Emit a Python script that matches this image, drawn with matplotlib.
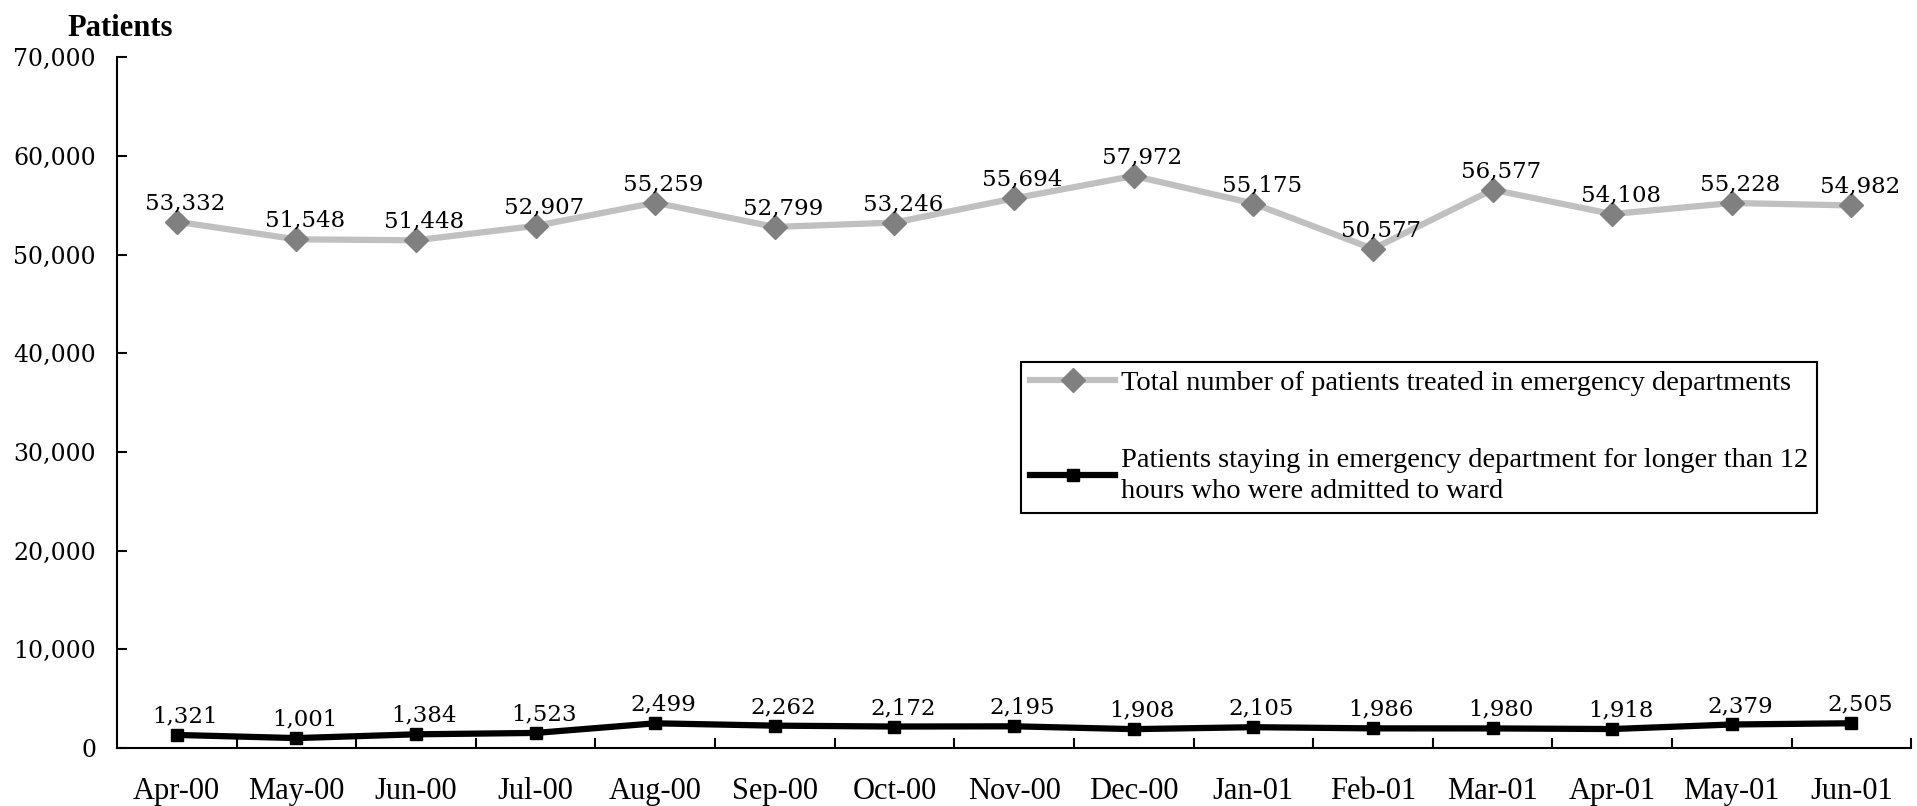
"""
Emergency department patients, Apr-00 to Jun-01.
Total treated vs. patients staying longer than 12 hours before admission.
"""

import matplotlib
matplotlib.use("Agg")
import matplotlib.pyplot as plt
from matplotlib.ticker import FuncFormatter, FixedLocator

months = ["Apr-00", "May-00", "Jun-00", "Jul-00", "Aug-00", "Sep-00", "Oct-00",
          "Nov-00", "Dec-00", "Jan-01", "Feb-01", "Mar-01", "Apr-01", "May-01",
          "Jun-01"]
total_treated = [53332, 51548, 51448, 52907, 55259, 52799, 53246, 55694,
                 57972, 55175, 50577, 56577, 54108, 55228, 54982]
over_12_hours = [1321, 1001, 1384, 1523, 2499, 2262, 2172, 2195, 1908, 2105,
                 1986, 1980, 1918, 2379, 2505]

label_total = "Total number of patients treated in emergency departments"
label_long = ("Patients staying in emergency department for longer than 12\n"
              "hours who were admitted to ward")

NUM_FONT = "DejaVu Serif"
TXT_FONT = "Liberation Serif"

fig = plt.figure(figsize=(19.17, 8.06), dpi=100)
ax = fig.add_axes([0.061, 0.072, 0.936, 0.857])

x = list(range(len(months)))
ax.plot(x, total_treated, color="#C0C0C0", linewidth=4.5, marker="D",
        markersize=12, markerfacecolor="#808080", markeredgecolor="#808080",
        label=label_total, zorder=3)
ax.plot(x, over_12_hours, color="black", linewidth=4.5, marker="s",
        markersize=9, markerfacecolor="black", markeredgecolor="black",
        label=label_long, zorder=3)

# data labels above each point
for xi, v in zip(x, total_treated):
    ax.annotate(f"{v:,}", (xi, v), xytext=(6, 9), textcoords="offset points",
                ha="center", va="baseline", fontsize=16.5, family=NUM_FONT)
for xi, v in zip(x, over_12_hours):
    ax.annotate(f"{v:,}", (xi, v), xytext=(6, 9), textcoords="offset points",
                ha="center", va="baseline", fontsize=16.5, family=NUM_FONT)

ax.set_xlim(-0.5, len(months) - 0.5)
ax.set_ylim(0, 70000)
ax.set_yticks(range(0, 70001, 10000))
ax.yaxis.set_major_formatter(FuncFormatter(lambda v, p: f"{int(v):,}"))

# category ticks sit between months, labels at the centres
ax.xaxis.set_major_locator(FixedLocator([i + 0.5 for i in range(len(months))]))
ax.xaxis.set_minor_locator(FixedLocator(x))
ax.xaxis.set_major_formatter(FuncFormatter(lambda v, p: ""))
ax.set_xticks(x, months, minor=True)

ax.tick_params(axis="y", direction="in", length=7, width=1.5, pad=15,
               labelsize=17)
ax.tick_params(axis="x", which="major", direction="in", length=7, width=1.5)
ax.tick_params(axis="x", which="minor", length=0, pad=21, labelsize=22)
for lbl in ax.get_yticklabels():
    lbl.set_family(NUM_FONT)
for lbl in ax.get_xticklabels(minor=True):
    lbl.set_family(TXT_FONT)

for side in ["top", "right"]:
    ax.spines[side].set_visible(False)
for side in ["left", "bottom"]:
    ax.spines[side].set_linewidth(1.5)

leg = ax.legend(loc="upper left", bbox_to_anchor=(0.504, 0.559),
                prop={"family": TXT_FONT, "size": 20.5}, frameon=True,
                fancybox=False, edgecolor="black", framealpha=1,
                handlelength=3.0, handletextpad=0.2, labelspacing=1.8,
                borderpad=0.3, borderaxespad=0)
leg.get_frame().set_linewidth(1.5)
for t in leg.get_texts():
    t.set_linespacing(1.35)

fig.text(0.035, 0.955, "Patients", family=TXT_FONT, fontweight="bold",
         fontsize=22, va="baseline", ha="left")

fig.savefig("out.png", dpi=100)
